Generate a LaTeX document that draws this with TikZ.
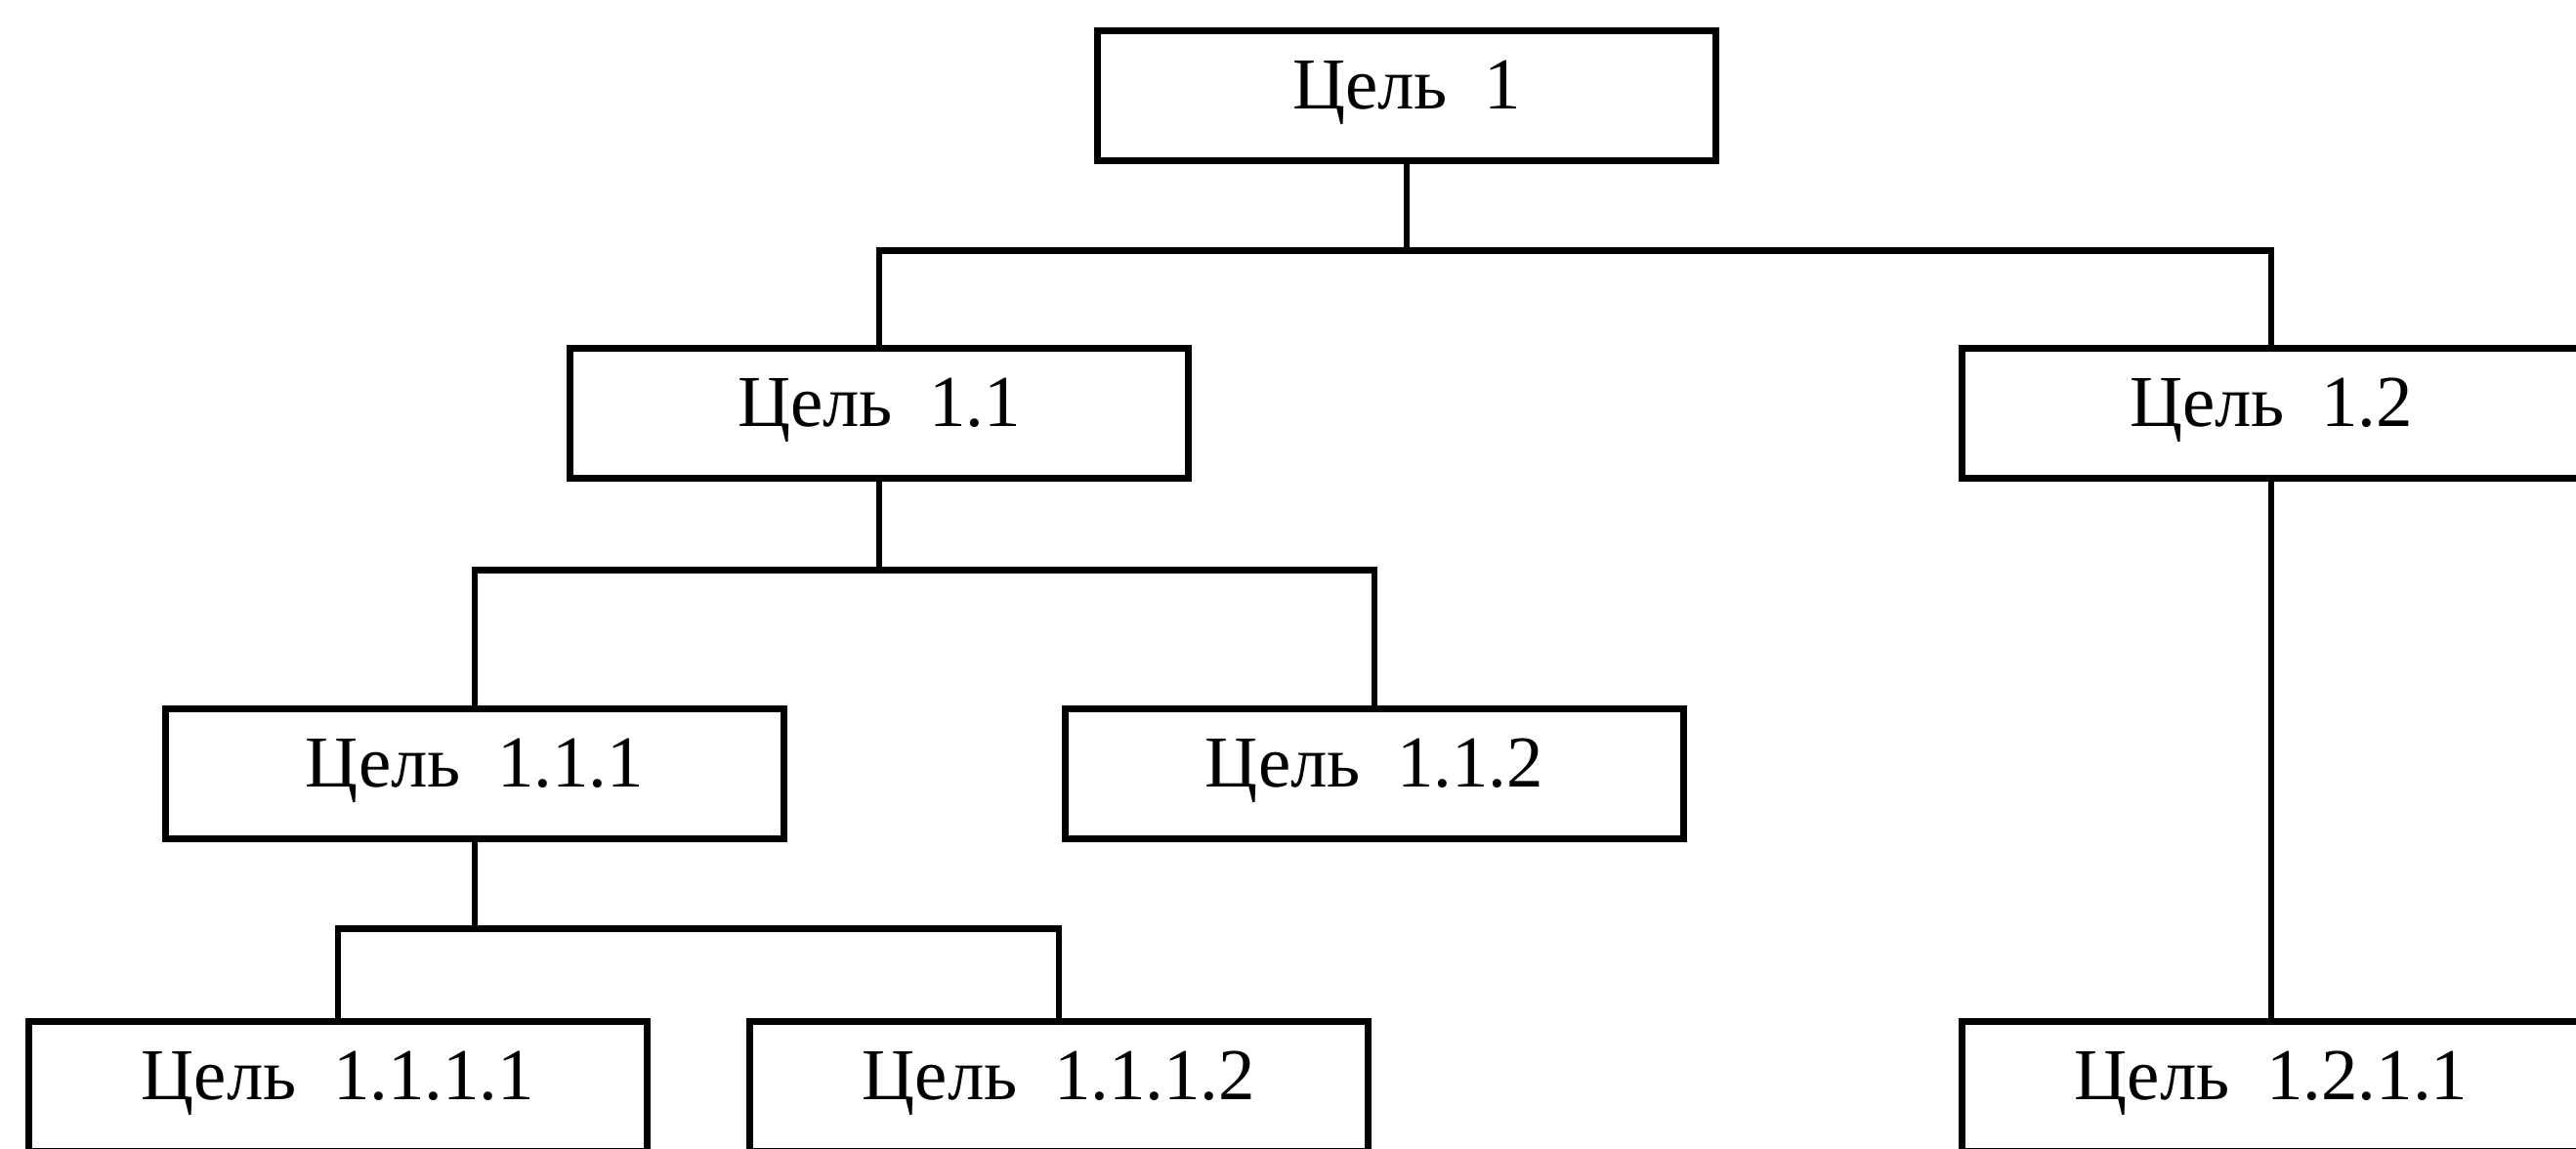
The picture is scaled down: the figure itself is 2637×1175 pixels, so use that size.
\documentclass[tikz,border=0pt]{standalone}
\usepackage{fontspec}
\setmainfont{Liberation Serif}
\begin{document}
\begin{tikzpicture}[x=0.01cm,y=-0.01cm,
  goalbox/.style={draw=black, line width=0.07cm, fill=white,
    minimum width=6.33cm, minimum height=1.32cm, inner sep=0pt,
    text height=0.5cm, text depth=0.23cm,
    font=\fontsize{21.3}{25}\selectfont},
  link/.style={draw=black, line width=0.065cm}]
\clip (0,0) rectangle (2637,1175);
\fill[white] (0,0) rectangle (2637,1175);
\node[goalbox] (b1)    at (1440,98)  {Цель\hspace{0.5em}1};
\node[goalbox] (b11)   at (900,423)  {Цель\hspace{0.5em}1.1};
\node[goalbox] (b12)   at (2325,423) {Цель\hspace{0.5em}1.2};
\node[goalbox] (b111)  at (486,792)  {Цель\hspace{0.5em}1.1.1};
\node[goalbox] (b112)  at (1407,792) {Цель\hspace{0.5em}1.1.2};
\node[goalbox] (b1111) at (346,1112) {Цель\hspace{0.5em}1.1.1.1};
\node[goalbox] (b1112) at (1084,1112) {Цель\hspace{0.5em}1.1.1.2};
\node[goalbox] (b1211) at (2325,1112) {Цель\hspace{0.5em}1.2.1.1};
\draw[link] (b1.south) -- ++(0,89) coordinate (j1);
\draw[link] (b11.north) |- (j1) -| (b12.north);
\draw[link] (b11.south) -- ++(0,91) coordinate (j2);
\draw[link] (b111.north) |- (j2) -| (b112.north);
\draw[link] (b111.south) -- ++(0,89) coordinate (j3);
\draw[link] (b1111.north) |- (j3) -| (b1112.north);
\draw[link] (b12.south) -- (b1211.north);
\end{tikzpicture}
\end{document}
